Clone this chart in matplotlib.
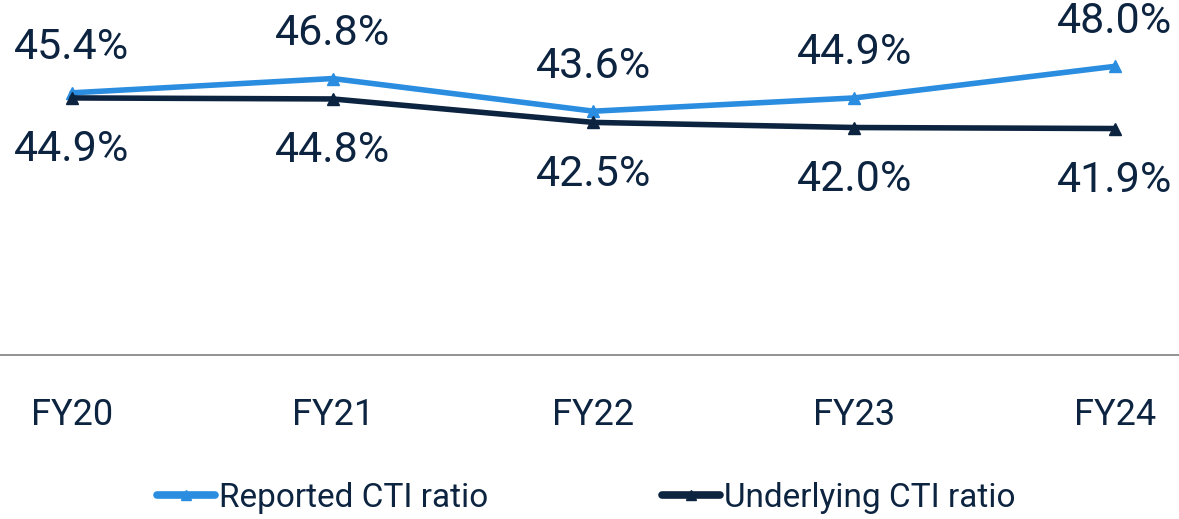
import numpy as np
import matplotlib.pyplot as plt

# CTI ratio, FY20 - FY24
years = ['FY20', 'FY21', 'FY22', 'FY23', 'FY24']
reported = [45.4, 46.8, 43.6, 44.9, 48.0]
underlying = [44.9, 44.8, 42.5, 42.0, 41.9]

blue = '#2a8de0'
navy = '#0d2441'

plt.rcParams['font.family'] = ['Roboto', 'DejaVu Sans']

fig = plt.figure(figsize=(11.79, 5.19), dpi=100)
ax = fig.add_axes([0, 1 - 355/519, 1, 355/519])

x = np.arange(len(years))
ax.plot(x, reported, color=blue, lw=4, marker='^', ms=8, label='Reported CTI ratio',
        solid_capstyle='round')
ax.plot(x, underlying, color=navy, lw=4, marker='^', ms=8, label='Underlying CTI ratio',
        solid_capstyle='round')

for xi, v in zip(x, reported):
    ax.annotate('%.1f%%' % v, (xi, v), xytext=(0, 45), textcoords='offset pixels',
                ha='center', va='center', fontsize=31, color=navy)
for xi, v in zip(x, underlying):
    ax.annotate('%.1f%%' % v, (xi, v), xytext=(0, -52), textcoords='offset pixels',
                ha='center', va='center', fontsize=31, color=navy)

ax.set_xlim(-72/261, 4 + 64/261)
ax.set_ylim(19.7, 54.5)
ax.set_xticks(x)
ax.set_xticklabels(years, fontsize=26, color=navy)
ax.tick_params(axis='x', length=0, pad=30)
ax.set_yticks([])
for s in ['top', 'left', 'right']:
    ax.spines[s].set_visible(False)
ax.spines['bottom'].set_color('#7f7f7f')
ax.spines['bottom'].set_linewidth(1.2)

leg = fig.legend(loc='center', bbox_to_anchor=(586/1179, 1 - 498/519), ncol=2, frameon=False,
                 fontsize=24, handlelength=1.75, handletextpad=0.12, columnspacing=5.2,
                 labelcolor=navy)
for h in leg.legend_handles:
    h.set_linewidth(5.5)
    h.set_markersize(7)

fig.savefig('out.png', dpi=100)
